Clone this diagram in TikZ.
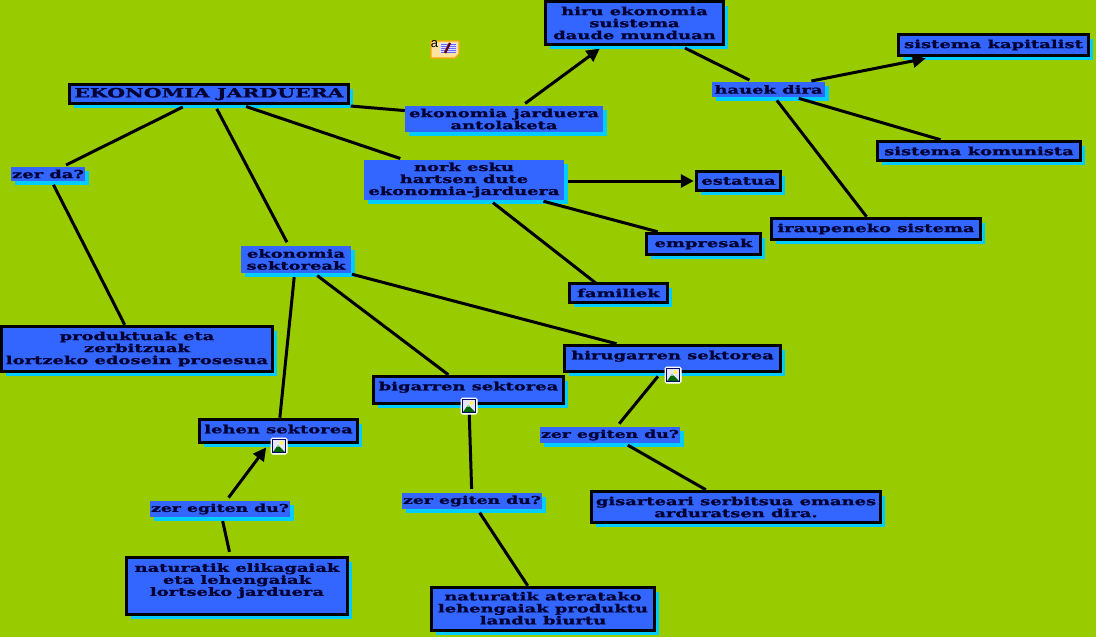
\documentclass[tikz,border=0pt]{standalone}
\usepackage{fontspec}
\usetikzlibrary{arrows.meta,shadows}
\newfontfamily\widefont[FakeStretch=1.6,FakeBold=1.2]{DejaVu Serif Bold}
\newfontfamily\notefont{Liberation Sans}
\definecolor{pagegreen}{HTML}{99CC00}
\definecolor{boxblue}{HTML}{3366FF}
\definecolor{shadowcyan}{HTML}{00CCFF}
\definecolor{textnavy}{HTML}{000033}
\tikzset{
	basebox/.style={fill=boxblue, text=textnavy, align=center, inner sep=0pt,
		font=\widefont\fontsize{11.2}{12}\selectfont,
		drop shadow={shadow xshift=4pt, shadow yshift=-4pt, fill=shadowcyan, opacity=1}},
	conceptbox/.style={basebox, draw=black, line width=3.5pt},
	linkbox/.style={basebox},
	questionbox/.style={linkbox, minimum width=140pt, minimum height=16pt, font=\widefont\fontsize{10.8}{12}\selectfont},
	conn/.style={draw=black, line width=3pt, shorten >=4pt, shorten <=4pt},
	connarrow/.style={conn, -{Triangle[length=13pt,width=13pt]}},
	pics/imageicon/.style={code={
		\draw[draw=white, line width=1pt, fill=white, rounded corners=1.5pt] (-8,-8) rectangle (8,8);
		\draw[draw=blue!40!black, line width=.8pt, fill=white] (-6.5,-6.5) rectangle (6.5,6.5);
		\fill[blue!10] (-6,-6) rectangle (6,6);
		\fill[yellow!70!white] (2.5,-3) circle (2);
		\fill[green!40!black] (-6,6) -- (-1,-1) -- (6,6) -- cycle;
		\fill[white!70!green] (-1,-1) -- (-2.5,.5) -- (.5,.5) -- cycle;
	}},
}
\begin{document}
\begin{tikzpicture}[x=1pt, y=-1pt]
	%background
	\fill[pagegreen] (0,0) rectangle (1096,637);
	\useasboundingbox (0,0) rectangle (1096,637);
	%concepts
	\node[conceptbox, minimum width=279pt, minimum height=19pt, font=\widefont\fontsize{12.8}{12}\selectfont] (jarduera) at (209,94) {EKONOMIA JARDUERA};
	\node[conceptbox, minimum width=178pt, minimum height=43pt] (hiru) at (634.5,23) {hiru ekonomia\\suistema\\daude munduan};
	\node[conceptbox, minimum width=190pt, minimum height=21pt] (kapitalist) at (993.5,45) {sistema kapitalist};
	\node[conceptbox, minimum width=203pt, minimum height=19pt] (komunista) at (979,151) {sistema komunista};
	\node[conceptbox, minimum width=84pt, minimum height=19pt] (estatua) at (738.5,181) {estatua};
	\node[conceptbox, minimum width=114pt, minimum height=21pt] (empresak) at (703.5,244) {empresak};
	\node[conceptbox, minimum width=209pt, minimum height=21pt] (iraupeneko) at (876,229) {iraupeneko sistema};
	\node[conceptbox, minimum width=98pt, minimum height=19pt] (familiek) at (618.5,293) {familiek};
	\node[conceptbox, minimum width=271pt, minimum height=45pt] (produktuak) at (137,349) {produktuak eta\\zerbitzuak\\lortzeko edosein prosesua};
	\node[conceptbox, minimum width=216pt, minimum height=26pt, text depth=7pt] (hirugarren) at (672.5,358.5) {hirugarren sektorea};
	\node[conceptbox, minimum width=190pt, minimum height=27pt, text depth=8pt] (bigarren) at (468.5,390) {bigarren sektorea};
	\node[conceptbox, minimum width=158pt, minimum height=23pt, text depth=4pt] (lehen) at (278.5,431) {lehen sektorea};
	\node[conceptbox, minimum width=289pt, minimum height=31pt] (gisarteari) at (736,507) {gisarteari serbitsua emanes\\arduratsen dira.};
	\node[conceptbox, minimum width=221pt, minimum height=57pt, text depth=13pt] (elikagaiak) at (237,586) {naturatik elikagaiak\\eta lehengaiak\\lortseko jarduera};
	\node[conceptbox, minimum width=223pt, minimum height=43pt, text height=31pt] (ateratako) at (543,609) {naturatik ateratako\\lehengaiak produktu\\landu biurtu};
	%linking phrases
	\node[linkbox, minimum width=113pt, minimum height=15pt] (hauek) at (768.5,89.5) {hauek dira};
	\node[linkbox, minimum width=198pt, minimum height=26pt] (antolaketa) at (504,119) {ekonomia jarduera\\antolaketa};
	\node[linkbox, minimum width=200pt, minimum height=40pt] (nork) at (464,180) {nork esku\\hartsen dute\\ekonomia-jarduera};
	\node[linkbox, minimum width=74pt, minimum height=14pt] (zerda) at (48,174) {zer da?};
	\node[linkbox, minimum width=110pt, minimum height=27pt] (sektoreak) at (296,259.5) {ekonomia\\sektoreak};
	\node[questionbox] (zerhiru) at (610,435) {zer egiten du?};
	\node[questionbox] (zerbi) at (472,501) {zer egiten du?};
	\node[questionbox] (zerlehen) at (220,509) {zer egiten du?};
	%connectors
	\foreach \from/\to in {
		jarduera/zerda,
		jarduera/sektoreak,
		jarduera/nork,
		hiru/hauek,
		zerlehen/elikagaiak,
		bigarren/zerbi,
		hirugarren/zerhiru%
	}
		\draw[conn] (\from) -- (\to);
	\foreach \from/\to in {
		zerda/produktuak,
		hauek/komunista,
		hauek/iraupeneko,
		nork/empresak,
		sektoreak/hirugarren,
		sektoreak/bigarren,
		sektoreak/lehen,
		zerbi/ateratako,
		zerhiru/gisarteari%
	}
		\draw[conn, shorten >=0pt] (\from) -- (\to);
	\draw[conn, shorten <=9pt, shorten >=0pt] (jarduera) -- (antolaketa);
	\draw[conn, shorten >=15pt] (nork) -- ([xshift=-10pt]familiek.center);
	\foreach \from/\to in {
		antolaketa/hiru,
		zerlehen/lehen%
	}
		\draw[connarrow] (\from) -- (\to);
	\draw[connarrow, shorten >=6pt] (hauek) -- (kapitalist);
	\draw[connarrow, shorten >=1pt] (nork.east |- estatua) -- (estatua);
	%icons
	\pic at (673,375) {imageicon};
	\pic at (469,406) {imageicon};
	\pic at (279,446) {imageicon};
	%note
	\draw[draw=orange!70!yellow, line width=1.2pt, fill=yellow!45!orange!35!white] (431,41) -- (459,41) -- (459,54) -- (455,58) -- (431,58) -- cycle;
	\fill[blue!12] (440,43) rectangle (457,53);
	\foreach \y in {44,46,...,52}
		\draw[blue!60, line width=.6pt] (441,\y) -- (456,\y);
	\draw[red!40!black, line width=2.4pt] (445,53) -- (450,43);
	\node[font=\notefont\fontsize{13}{13}\selectfont, inner sep=0pt] (notea) at (434.5,44.5) {a};
\end{tikzpicture}
\end{document}
